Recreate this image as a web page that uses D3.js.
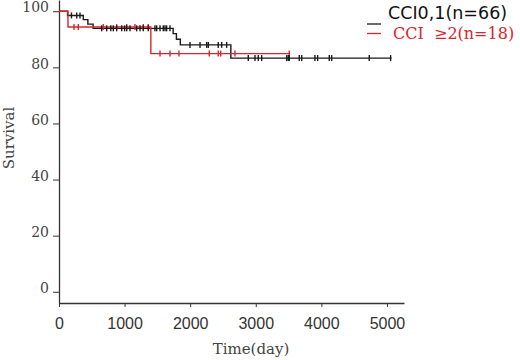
<html>
<head>
<script src="https://cdnjs.cloudflare.com/ajax/libs/d3/7.8.5/d3.min.js"></script>
<style>
body { margin: 0; background: #fff; }
svg { display: block; }
</style>
</head>
<body>
<div id="chart"></div>
<script>
// step times (days) and survival (%) after each step
var blackTimes = [0, 130, 370, 440, 520, 1740, 1790, 1850, 2620];
var blackSurv  = [100, 98.5, 97.0, 95.4, 93.9, 92.0, 90.0, 88.0, 83.3];
var blackEnd = 5070;
var blackCensor = [190, 270, 320,
  650, 727, 790, 828, 879, 956, 1000, 1032, 1082, 1184, 1235, 1285, 1361, 1463, 1489, 1540, 1590, 1616, 1641, 1692,
  1997, 2150, 2251, 2276, 2428, 2480, 2556,
  2886, 2988, 3038, 3090, 3471, 3495, 3511, 3663, 3700, 3902, 3943, 4121, 4157, 4730, 5056];

var redTimes = [0, 137, 1400];
var redSurv  = [100, 94.4, 84.9];
var redEnd = 3520;
var redCensor = [229, 294, 675, 879, 1032, 1159, 1285, 1361,
  1540, 1692, 1829, 2291, 2428, 2465, 2683, 3511];

var xTicks = [0, 1000, 2000, 3000, 4000, 5000];
var yTicks = [0, 20, 40, 60, 80, 100];

var svg = d3.select("#chart").append("svg")
  .attr("width", 520).attr("height", 360);
svg.append("rect").attr("width", 520).attr("height", 360).attr("fill", "#fff");

var x = d3.scaleLinear().domain([0, 5260]).range([59, 404]);
var y = d3.scaleLinear().domain([-4, 104]).range([303, 0]);

// axes
var xAxis = svg.append("g").attr("transform", "translate(0,303)")
  .call(d3.axisBottom(x).tickValues(xTicks).tickFormat(d3.format("d"))
    .tickSize(4).tickSizeOuter(0).tickPadding(11));
xAxis.selectAll("text").attr("font-family", "'Liberation Sans', Arial, sans-serif")
  .attr("font-size", 16).attr("fill", "#333");

var yAxis = svg.append("g").attr("transform", "translate(59,0)")
  .call(d3.axisLeft(y).tickValues(yTicks).tickSize(6).tickSizeOuter(0).tickPadding(4));
yAxis.selectAll("text").attr("font-family", "'DejaVu Serif', serif")
  .attr("font-size", 14).attr("fill", "#444").attr("dy", "0.05em");

svg.selectAll(".domain").attr("stroke", "#333").attr("stroke-width", 1.3);
svg.selectAll(".tick line").attr("stroke", "#333");

svg.append("text")
  .attr("transform", "translate(14,138) rotate(-90)")
  .attr("text-anchor", "middle")
  .attr("font-family", "'DejaVu Serif', serif").attr("font-size", 15).attr("fill", "#444")
  .text("Survival");

svg.append("text")
  .attr("x", 251).attr("y", 354)
  .attr("text-anchor", "middle")
  .attr("font-family", "'DejaVu Serif', serif").attr("font-size", 15).attr("fill", "#444")
  .text("Time(day)");

// KM curves
function stepData(times, surv, end) {
  var d = times.map(function(t, i) { return [t, surv[i]]; });
  d.push([end, surv[surv.length - 1]]);
  return d;
}
function survAt(times, surv, t) {
  var i = d3.bisectRight(times, t) - 1;
  return surv[Math.max(i, 0)];
}
var line = d3.line()
  .x(function(d) { return x(d[0]); })
  .y(function(d) { return y(d[1]); })
  .curve(d3.curveStepAfter);

var groups = [
  {times: blackTimes, surv: blackSurv, end: blackEnd, censor: blackCensor, color: "#1a1a1a"},
  {times: redTimes, surv: redSurv, end: redEnd, censor: redCensor, color: "#d8262c"}
];

groups.forEach(function(g) {
  svg.append("path")
    .attr("d", line(stepData(g.times, g.surv, g.end)))
    .attr("fill", "none").attr("stroke", g.color).attr("stroke-width", 1.4);
});

[groups[1], groups[0]].forEach(function(g) {
  svg.append("g").selectAll("line")
    .data(g.censor)
    .enter().append("line")
    .attr("x1", function(d) { return x(d); })
    .attr("x2", function(d) { return x(d); })
    .attr("y1", function(d) { return y(survAt(g.times, g.surv, d)) - 3; })
    .attr("y2", function(d) { return y(survAt(g.times, g.surv, d)) + 3; })
    .attr("stroke", g.color).attr("stroke-width", 1.4);
});

// legend
var legend = svg.append("g");
legend.append("line").attr("x1", 367).attr("x2", 381).attr("y1", 24).attr("y2", 24)
  .attr("stroke", "#1a1a1a").attr("stroke-width", 1.3);
legend.append("line").attr("x1", 367).attr("x2", 381).attr("y1", 33.5).attr("y2", 33.5)
  .attr("stroke", "#d8262c").attr("stroke-width", 1.3);
legend.append("text").attr("x", 388).attr("y", 18.5)
  .attr("font-family", "'DejaVu Sans', sans-serif").attr("font-size", 17.5)
  .attr("fill", "#111").text("CCI0,1(n=66)");
legend.append("text").attr("x", 393).attr("y", 38.5)
  .attr("font-family", "'DejaVu Serif', serif").attr("font-size", 16)
  .attr("fill", "#d8262c").text("CCI \u00a0≥2(n=18)");
</script>
</body>
</html>
